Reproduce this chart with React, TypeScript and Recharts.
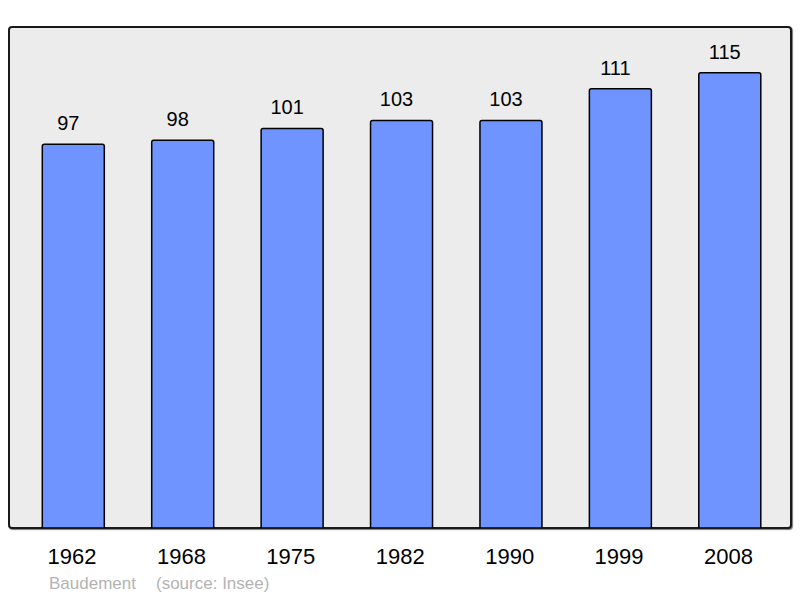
import React from 'react';
import { BarChart, Bar, XAxis, YAxis, LabelList } from 'recharts';

const years = ['1962', '1968', '1975', '1982', '1990', '1999', '2008'];
const population = [97, 98, 101, 103, 103, 111, 115];

const data = years.map((year, i) => ({ year, population: population[i] }));

const FONT = '"Liberation Sans", Arial, sans-serif';

const App: React.FC = () => {
  return (
    <div style={{ position: 'absolute', left: 0, top: 0, width: 800, height: 598, background: '#fff', fontFamily: FONT }}>
      {/* grey panel behind the plot */}
      <div
        style={{
          position: 'absolute',
          left: 8,
          top: 26,
          width: 784,
          height: 503,
          boxSizing: 'border-box',
          border: '2px solid #1a1a1a',
          borderRadius: 4,
          background: '#ececec',
          boxShadow: '1px 1px 1px #777',
        }}
      />
      <div style={{ position: 'absolute', left: 0, top: 0 }}>
        <BarChart
          width={800}
          height={598}
          data={data}
          margin={{ top: 27, right: 15.8, bottom: 0, left: 18.3 }}
          barSize={62}
        >
          <XAxis
            dataKey="year"
            height={70}
            axisLine={false}
            tickLine={false}
            tickSize={0}
            tickMargin={20}
            interval={0}
            tick={{ fill: '#000', fontSize: 22, fontFamily: FONT, dx: -1 }}
          />
          <YAxis hide domain={[0.5, 126.5]} allowDataOverflow />
          <Bar
            dataKey="population"
            fill="#7094ff"
            stroke="#000"
            strokeWidth={1.5}
            radius={[2, 2, 0, 0]}
            isAnimationActive={false}
          >
            <LabelList
              dataKey="population"
              position="top"
              offset={14}
              dx={-5}
              fill="#000"
              fontSize={20}
              fontFamily={FONT}
            />
          </Bar>
        </BarChart>
      </div>
      <div style={{ position: 'absolute', left: 49, top: 574, fontSize: 17, color: '#b3b3b3', whiteSpace: 'pre' }}>
        Baudement
      </div>
      <div style={{ position: 'absolute', left: 156, top: 574, fontSize: 17, color: '#b3b3b3', whiteSpace: 'pre' }}>
        (source: Insee)
      </div>
    </div>
  );
};

export default App;
